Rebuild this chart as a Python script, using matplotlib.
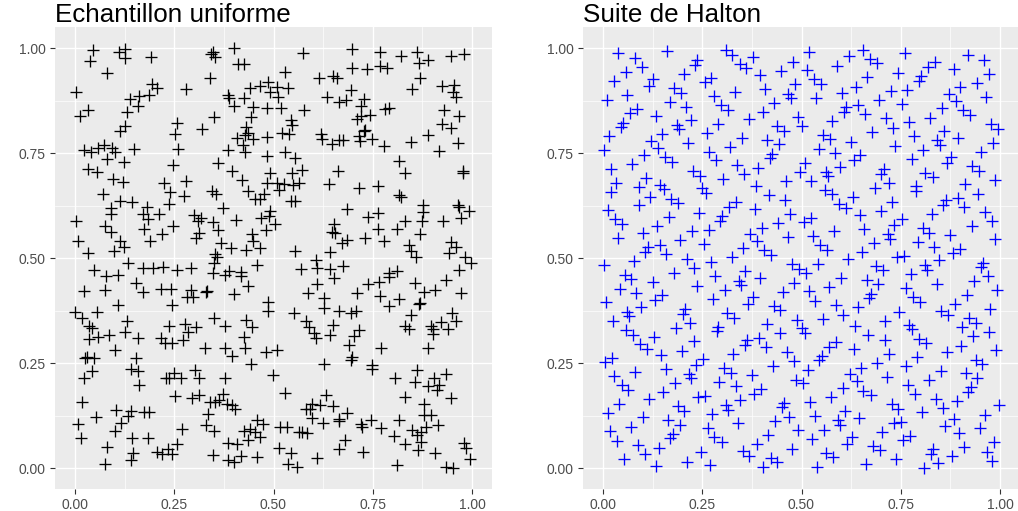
import matplotlib
matplotlib.use("Agg")
import matplotlib.pyplot as plt

plt.rcParams['font.family'] = ['Liberation Sans', 'DejaVu Sans']

# ---- uniform sample (read point by point) ----
unif_x = [
    0.045, 0.039, 0.125, 0.112, 0.125, 0.191, 0.081, 0.003, 0.193, 0.207, 0.187, 0.161, 0.139, 0.158, 0.130,
    0.032, 0.012, 0.125, 0.113, 0.280, 0.257, 0.251, 0.259, 0.149, 0.074, 0.059, 0.040, 0.024, 0.094, 0.101,
    0.080, 0.124, 0.032, 0.055, 0.097, 0.121, 0.248, 0.225, 0.281, 0.348, 0.343, 0.353, 0.400, 0.410, 0.427,
    0.341, 0.386, 0.388, 0.427, 0.401, 0.350, 0.320, 0.441, 0.465, 0.487, 0.490, 0.449, 0.444, 0.484, 0.432,
    0.435, 0.428, 0.407, 0.448, 0.423, 0.429, 0.385, 0.484, 0.484, 0.361, 0.395, 0.421, 0.492, 0.484,
    0.574, 0.698, 0.769, 0.821, 0.861, 0.867, 0.890, 0.948, 0.979, 0.528, 0.614, 0.649, 0.660, 0.698, 0.735,
    0.769, 0.785, 0.868, 0.849, 0.924, 0.954, 0.952, 0.960, 0.510, 0.536, 0.511, 0.696, 0.634, 0.666, 0.682,
    0.729, 0.720, 0.781, 0.791, 0.518, 0.576, 0.545, 0.546, 0.710, 0.721, 0.744, 0.929, 0.968, 0.924, 0.946,
    0.521, 0.540, 0.619, 0.623, 0.647, 0.666, 0.674, 0.716, 0.728, 0.730, 0.718, 0.748, 0.779, 0.845, 0.888,
    0.964, 0.916, 0.530, 0.555, 0.816, 0.571, 0.547, 0.663, 0.832, 0.976, 0.976, 0.509, 0.526, 0.563, 0.639,
    0.071, 0.240, 0.274, 0.346, 0.356, 0.435, 0.475, 0.453, 0.467,
    0.114, 0.144, 0.238, 0.181, 0.092, 0.091, 0.172, 0.183, 0.212, 0.374, 0.299, 0.317, 0.311, 0.347, 0.406,
    0.490, 0.488, 0.469, 0.002, 0.076, 0.092, 0.173, 0.248, 0.220, 0.190, 0.361, 0.312, 0.306, 0.480, 0.445,
    0.449,
    0.008, 0.034, 0.114, 0.123, 0.098, 0.367, 0.393, 0.430, 0.465, 0.353, 0.359, 0.134, 0.349, 0.047, 0.078,
    0.108, 0.171, 0.196, 0.223, 0.256, 0.293, 0.348, 0.377, 0.388, 0.419, 0.418, 0.459, 0.154, 0.435, 0.024,
    0.076, 0.172, 0.217, 0.241, 0.292, 0.329, 0.332, 0.282, 0.297, 0.400, 0.109, 0.245, 0.487, 0.485, 0.000,
    0.017, 0.056, 0.036, 0.044, 0.130, 0.238, 0.278, 0.306, 0.351, 0.378, 0.432, 0.445,
    0.550, 0.513, 0.715, 0.764, 0.817, 0.820, 0.545, 0.555, 0.877, 0.964, 0.968, 0.991, 0.876, 0.686, 0.763,
    0.738, 0.830, 0.874, 0.926, 0.971, 0.503, 0.653, 0.647, 0.655, 0.764, 0.811, 0.870, 0.730, 0.779, 0.686,
    0.672, 0.842, 0.847, 0.859, 0.946, 0.960, 0.942, 0.981, 0.998, 0.555, 0.642, 0.608, 0.609, 0.570, 0.642,
    0.675, 0.652, 0.610, 0.588, 0.627, 0.628, 0.665, 0.696, 0.707, 0.552, 0.581, 0.590, 0.650, 0.710, 0.738,
    0.766, 0.790, 0.791, 0.812, 0.769, 0.817, 0.790, 0.855, 0.879, 0.907, 0.935, 0.967, 0.972, 0.865, 0.870,
    0.846, 0.830, 0.842, 0.897, 0.922, 0.949, 0.960, 0.939, 0.901,
    0.286, 0.126, 0.087, 0.057, 0.036, 0.160, 0.216, 0.227, 0.245, 0.271, 0.427, 0.100, 0.025, 0.030, 0.048,
    0.155, 0.327, 0.378, 0.395, 0.428, 0.482, 0.443, 0.043, 0.024, 0.142, 0.160, 0.162, 0.249, 0.229, 0.237,
    0.266, 0.303, 0.313, 0.377,
    0.017, 0.253, 0.296, 0.312, 0.340, 0.354, 0.364, 0.372, 0.382, 0.396, 0.404,
    0.103, 0.141, 0.134, 0.175, 0.186, 0.052, 0.007, 0.115, 0.102, 0.016, 0.144, 0.184, 0.334, 0.330, 0.350,
    0.269, 0.258, 0.082, 0.146, 0.141, 0.076, 0.208, 0.220, 0.235, 0.245, 0.348, 0.459, 0.474, 0.426, 0.441,
    0.454, 0.467, 0.437, 0.386, 0.407, 0.418, 0.386, 0.400, 0.458,
    0.714, 0.602, 0.607, 0.641, 0.702, 0.901, 0.689, 0.510, 0.770, 0.888, 0.697, 0.695, 0.628, 0.748, 0.748,
    0.498, 0.860, 0.807, 0.856, 0.904, 0.935, 0.889, 0.917, 0.912, 0.946, 0.528, 0.632, 0.830, 0.880, 0.596,
    0.617, 0.582, 0.592, 0.651, 0.685, 0.597, 0.625, 0.665, 0.664, 0.746, 0.721, 0.722, 0.771, 0.816, 0.879,
    0.896, 0.913, 0.884, 0.849, 0.872, 0.862, 0.804, 0.872, 0.832, 0.517, 0.533, 0.563, 0.571, 0.585, 0.680,
    0.665, 0.725, 0.514, 0.545, 0.609, 0.536, 0.559, 0.811, 0.864, 0.907, 0.979, 0.984, 0.995, 0.933, 0.953,
]
unif_y = [
    0.995, 0.970, 0.998, 0.990, 0.976, 0.979, 0.941, 0.895, 0.914, 0.905, 0.888, 0.887, 0.879, 0.862, 0.848,
    0.853, 0.840, 0.816, 0.802, 0.902, 0.823, 0.795, 0.761, 0.761, 0.770, 0.762, 0.752, 0.757, 0.762, 0.752,
    0.737, 0.729, 0.712, 0.706, 0.690, 0.681, 0.721, 0.680, 0.683, 0.990, 0.986, 0.979, 1.000, 0.963, 0.962,
    0.930, 0.888, 0.881, 0.881, 0.862, 0.837, 0.807, 0.906, 0.911, 0.920, 0.895, 0.860, 0.837, 0.857, 0.813,
    0.798, 0.794, 0.786, 0.785, 0.770, 0.752, 0.758, 0.789, 0.744, 0.728, 0.708, 0.687, 0.704, 0.679,
    0.989, 0.998, 0.992, 0.981, 0.990, 0.965, 0.973, 0.982, 0.987, 0.943, 0.930, 0.933, 0.930, 0.954, 0.951,
    0.957, 0.954, 0.929, 0.903, 0.911, 0.913, 0.895, 0.883, 0.909, 0.905, 0.884, 0.900, 0.883, 0.873, 0.878,
    0.880, 0.862, 0.856, 0.859, 0.859, 0.852, 0.830, 0.817, 0.832, 0.840, 0.841, 0.852, 0.838, 0.819, 0.811,
    0.798, 0.797, 0.795, 0.784, 0.771, 0.781, 0.781, 0.792, 0.802, 0.805, 0.779, 0.783, 0.768, 0.778, 0.793,
    0.775, 0.755, 0.753, 0.740, 0.731, 0.711, 0.702, 0.707, 0.702, 0.708, 0.702, 0.679, 0.676, 0.679, 0.678,
    0.653, 0.658, 0.648, 0.661, 0.653, 0.661, 0.653, 0.642, 0.640,
    0.636, 0.633, 0.629, 0.623, 0.620, 0.605, 0.605, 0.594, 0.605, 0.620, 0.602, 0.596, 0.588, 0.586, 0.591,
    0.613, 0.601, 0.597, 0.589, 0.577, 0.563, 0.569, 0.578, 0.558, 0.541, 0.568, 0.561, 0.548, 0.567, 0.557,
    0.540,
    0.541, 0.512, 0.542, 0.526, 0.517, 0.537, 0.524, 0.520, 0.524, 0.510, 0.504, 0.490, 0.489, 0.471, 0.457,
    0.460, 0.476, 0.476, 0.480, 0.472, 0.478, 0.466, 0.461, 0.470, 0.467, 0.458, 0.483, 0.441, 0.434, 0.421,
    0.424, 0.419, 0.428, 0.428, 0.425, 0.420, 0.421, 0.409, 0.407, 0.415, 0.389, 0.390, 0.395, 0.374, 0.373,
    0.359, 0.371, 0.339, 0.334, 0.351, 0.340, 0.343, 0.337, 0.358, 0.340, 0.353, 0.336,
    0.674, 0.663, 0.667, 0.671, 0.650, 0.645, 0.636, 0.637, 0.628, 0.628, 0.621, 0.612, 0.610, 0.617, 0.609,
    0.599, 0.590, 0.588, 0.590, 0.595, 0.582, 0.581, 0.563, 0.561, 0.570, 0.569, 0.558, 0.548, 0.540, 0.543,
    0.536, 0.532, 0.517, 0.503, 0.539, 0.526, 0.512, 0.503, 0.490, 0.517, 0.515, 0.497, 0.478, 0.474, 0.474,
    0.482, 0.454, 0.440, 0.417, 0.405, 0.381, 0.375, 0.370, 0.374, 0.370, 0.350, 0.337, 0.341, 0.417, 0.438,
    0.444, 0.464, 0.455, 0.470, 0.411, 0.404, 0.387, 0.442, 0.420, 0.424, 0.449, 0.472, 0.417, 0.392, 0.394,
    0.366, 0.340, 0.332, 0.340, 0.348, 0.370, 0.350, 0.332, 0.331,
    0.324, 0.325, 0.317, 0.312, 0.307, 0.311, 0.310, 0.298, 0.298, 0.306, 0.313, 0.282, 0.262, 0.265, 0.262,
    0.263, 0.286, 0.286, 0.267, 0.286, 0.276, 0.248, 0.232, 0.216, 0.236, 0.232, 0.198, 0.227, 0.214, 0.214,
    0.216, 0.233, 0.216, 0.214,
    0.159, 0.172, 0.168, 0.174, 0.159, 0.159, 0.163, 0.177, 0.154, 0.151, 0.142,
    0.140, 0.137, 0.125, 0.133, 0.133, 0.121, 0.106, 0.108, 0.088, 0.071, 0.072, 0.071, 0.129, 0.102, 0.089,
    0.093, 0.057, 0.050, 0.036, 0.019, 0.011, 0.040, 0.033, 0.046, 0.035, 0.032, 0.115, 0.105, 0.089, 0.094,
    0.086, 0.075, 0.068, 0.060, 0.059, 0.030, 0.020, 0.016, 0.027,
    0.329, 0.321, 0.311, 0.317, 0.315, 0.319, 0.294, 0.282, 0.286, 0.286, 0.266, 0.259, 0.248, 0.247, 0.236,
    0.222, 0.235, 0.214, 0.206, 0.214, 0.224, 0.195, 0.199, 0.186, 0.167, 0.180, 0.175, 0.170, 0.153, 0.153,
    0.151, 0.141, 0.141, 0.148, 0.132, 0.120, 0.108, 0.117, 0.112, 0.115, 0.106, 0.099, 0.095, 0.115, 0.126,
    0.126, 0.103, 0.098, 0.091, 0.086, 0.079, 0.078, 0.062, 0.059, 0.099, 0.099, 0.086, 0.086, 0.084, 0.068,
    0.047, 0.040, 0.049, 0.036, 0.025, 0.010, 0.004, 0.009, 0.043, 0.037, 0.060, 0.048, 0.023, 0.002, 0.001,
]

# ---- Halton points, bases 2 and 3, n = 1..500 ----
halton_x = [
    0.5, 0.25, 0.75, 0.125, 0.625, 0.375, 0.875,
    0.062, 0.562, 0.312, 0.812, 0.188, 0.688, 0.438, 0.938,
    0.031, 0.531, 0.281, 0.781, 0.156, 0.656, 0.406, 0.906,
    0.094, 0.594, 0.344, 0.844, 0.219, 0.719, 0.469, 0.969,
    0.016, 0.516, 0.266, 0.766, 0.141, 0.641, 0.391, 0.891,
    0.078, 0.578, 0.328, 0.828, 0.203, 0.703, 0.453, 0.953,
    0.047, 0.547, 0.297, 0.797, 0.172, 0.672, 0.422, 0.922,
    0.109, 0.609, 0.359, 0.859, 0.234, 0.734, 0.484, 0.984,
    0.008, 0.508, 0.258, 0.758, 0.133, 0.633, 0.383, 0.883,
    0.070, 0.570, 0.320, 0.820, 0.195, 0.695, 0.445, 0.945,
    0.039, 0.539, 0.289, 0.789, 0.164, 0.664, 0.414, 0.914,
    0.102, 0.602, 0.352, 0.852, 0.227, 0.727, 0.477, 0.977,
    0.023, 0.523, 0.273, 0.773, 0.148, 0.648, 0.398, 0.898,
    0.086, 0.586, 0.336, 0.836, 0.211, 0.711, 0.461, 0.961,
    0.055, 0.555, 0.305, 0.805, 0.180, 0.680, 0.430, 0.930,
    0.117, 0.617, 0.367, 0.867, 0.242, 0.742, 0.492, 0.992,
    0.004, 0.504, 0.254, 0.754, 0.129, 0.629, 0.379, 0.879,
    0.066, 0.566, 0.316, 0.816, 0.191, 0.691, 0.441, 0.941,
    0.035, 0.535, 0.285, 0.785, 0.160, 0.660, 0.410, 0.910,
    0.098, 0.598, 0.348, 0.848, 0.223, 0.723, 0.473, 0.973,
    0.020, 0.520, 0.270, 0.770, 0.145, 0.645, 0.395, 0.895,
    0.082, 0.582, 0.332, 0.832, 0.207, 0.707, 0.457, 0.957,
    0.051, 0.551, 0.301, 0.801, 0.176, 0.676, 0.426, 0.926,
    0.113, 0.613, 0.363, 0.863, 0.238, 0.738, 0.488, 0.988,
    0.012, 0.512, 0.262, 0.762, 0.137, 0.637, 0.387, 0.887,
    0.074, 0.574, 0.324, 0.824, 0.199, 0.699, 0.449, 0.949,
    0.043, 0.543, 0.293, 0.793, 0.168, 0.668, 0.418, 0.918,
    0.105, 0.605, 0.355, 0.855, 0.230, 0.730, 0.480, 0.980,
    0.027, 0.527, 0.277, 0.777, 0.152, 0.652, 0.402, 0.902,
    0.090, 0.590, 0.340, 0.840, 0.215, 0.715, 0.465, 0.965,
    0.059, 0.559, 0.309, 0.809, 0.184, 0.684, 0.434, 0.934,
    0.121, 0.621, 0.371, 0.871, 0.246, 0.746, 0.496, 0.996,
    0.002, 0.502, 0.252, 0.752, 0.127, 0.627, 0.377, 0.877,
    0.064, 0.564, 0.314, 0.814, 0.189, 0.689, 0.439, 0.939,
    0.033, 0.533, 0.283, 0.783, 0.158, 0.658, 0.408, 0.908,
    0.096, 0.596, 0.346, 0.846, 0.221, 0.721, 0.471, 0.971,
    0.018, 0.518, 0.268, 0.768, 0.143, 0.643, 0.393, 0.893,
    0.080, 0.580, 0.330, 0.830, 0.205, 0.705, 0.455, 0.955,
    0.049, 0.549, 0.299, 0.799, 0.174, 0.674, 0.424, 0.924,
    0.111, 0.611, 0.361, 0.861, 0.236, 0.736, 0.486, 0.986,
    0.010, 0.510, 0.260, 0.760, 0.135, 0.635, 0.385, 0.885,
    0.072, 0.572, 0.322, 0.822, 0.197, 0.697, 0.447, 0.947,
    0.041, 0.541, 0.291, 0.791, 0.166, 0.666, 0.416, 0.916,
    0.104, 0.604, 0.354, 0.854, 0.229, 0.729, 0.479, 0.979,
    0.025, 0.525, 0.275, 0.775, 0.150, 0.650, 0.400, 0.900,
    0.088, 0.588, 0.338, 0.838, 0.213, 0.713, 0.463, 0.963,
    0.057, 0.557, 0.307, 0.807, 0.182, 0.682, 0.432, 0.932,
    0.119, 0.619, 0.369, 0.869, 0.244, 0.744, 0.494, 0.994,
    0.006, 0.506, 0.256, 0.756, 0.131, 0.631, 0.381, 0.881,
    0.068, 0.568, 0.318, 0.818, 0.193, 0.693, 0.443, 0.943,
    0.037, 0.537, 0.287, 0.787, 0.162, 0.662, 0.412, 0.912,
    0.100, 0.600, 0.350, 0.850, 0.225, 0.725, 0.475, 0.975,
    0.021, 0.521, 0.271, 0.771, 0.146, 0.646, 0.396, 0.896,
    0.084, 0.584, 0.334, 0.834, 0.209, 0.709, 0.459, 0.959,
    0.053, 0.553, 0.303, 0.803, 0.178, 0.678, 0.428, 0.928,
    0.115, 0.615, 0.365, 0.865, 0.240, 0.740, 0.490, 0.990,
    0.014, 0.514, 0.264, 0.764, 0.139, 0.639, 0.389, 0.889,
    0.076, 0.576, 0.326, 0.826, 0.201, 0.701, 0.451, 0.951,
    0.045, 0.545, 0.295, 0.795, 0.170, 0.670, 0.420, 0.920,
    0.107, 0.607, 0.357, 0.857, 0.232, 0.732, 0.482, 0.982,
    0.029, 0.529, 0.279, 0.779, 0.154, 0.654, 0.404, 0.904,
    0.092, 0.592, 0.342, 0.842, 0.217, 0.717, 0.467, 0.967,
    0.061, 0.561, 0.311, 0.811, 0.186,
]
halton_y = [
    0.333, 0.667, 0.111, 0.444, 0.778, 0.222, 0.556, 0.889, 0.037, 0.370,
    0.704, 0.148, 0.481, 0.815, 0.259, 0.593, 0.926, 0.074, 0.407, 0.741,
    0.185, 0.519, 0.852, 0.296, 0.630, 0.963, 0.012, 0.346, 0.679, 0.123,
    0.457, 0.790, 0.235, 0.568, 0.901, 0.049, 0.383, 0.716, 0.160, 0.494,
    0.827, 0.272, 0.605, 0.938, 0.086, 0.420, 0.753, 0.198, 0.531, 0.864,
    0.309, 0.642, 0.975, 0.025, 0.358, 0.691, 0.136, 0.469, 0.802, 0.247,
    0.580, 0.914, 0.062, 0.395, 0.728, 0.173, 0.506, 0.840, 0.284, 0.617,
    0.951, 0.099, 0.432, 0.765, 0.210, 0.543, 0.877, 0.321, 0.654, 0.988,
    0.004, 0.337, 0.671, 0.115, 0.449, 0.782, 0.226, 0.560, 0.893, 0.041,
    0.374, 0.708, 0.152, 0.486, 0.819, 0.263, 0.597, 0.930, 0.078, 0.412,
    0.745, 0.189, 0.523, 0.856, 0.300, 0.634, 0.967, 0.016, 0.350, 0.683,
    0.128, 0.461, 0.794, 0.239, 0.572, 0.905, 0.054, 0.387, 0.720, 0.165,
    0.498, 0.831, 0.276, 0.609, 0.942, 0.091, 0.424, 0.757, 0.202, 0.535,
    0.868, 0.313, 0.646, 0.979, 0.029, 0.362, 0.695, 0.140, 0.473, 0.807,
    0.251, 0.584, 0.918, 0.066, 0.399, 0.733, 0.177, 0.510, 0.844, 0.288,
    0.621, 0.955, 0.103, 0.436, 0.770, 0.214, 0.547, 0.881, 0.325, 0.658,
    0.992,
    0.008, 0.342, 0.675, 0.119, 0.453, 0.786, 0.230, 0.564, 0.897, 0.045,
    0.379, 0.712, 0.156, 0.490, 0.823, 0.267, 0.601, 0.934, 0.082, 0.416,
    0.749, 0.193, 0.527, 0.860, 0.305, 0.638, 0.971, 0.021, 0.354, 0.687,
    0.132, 0.465, 0.798, 0.243, 0.576, 0.909, 0.058, 0.391, 0.724, 0.169,
    0.502, 0.835, 0.280, 0.613, 0.947, 0.095, 0.428, 0.761, 0.206, 0.539,
    0.872, 0.317, 0.650, 0.984, 0.033, 0.366, 0.700, 0.144, 0.477, 0.811,
    0.255, 0.588, 0.922, 0.070, 0.403, 0.737, 0.181, 0.514, 0.848, 0.292,
    0.626, 0.959, 0.107, 0.440, 0.774, 0.218, 0.551, 0.885, 0.329, 0.663,
    0.996,
    0.001, 0.335, 0.668, 0.112, 0.446, 0.779, 0.224, 0.557, 0.890, 0.038,
    0.372, 0.705, 0.150, 0.483, 0.816, 0.261, 0.594, 0.927, 0.075, 0.409,
    0.742, 0.187, 0.520, 0.853, 0.298, 0.631, 0.964, 0.014, 0.347, 0.680,
    0.125, 0.458, 0.791, 0.236, 0.569, 0.903, 0.051, 0.384, 0.717, 0.162,
    0.495, 0.829, 0.273, 0.606, 0.940, 0.088, 0.421, 0.754, 0.199, 0.532,
    0.866, 0.310, 0.643, 0.977, 0.026, 0.359, 0.693, 0.137, 0.471, 0.804,
    0.248, 0.582, 0.915, 0.063, 0.396, 0.730, 0.174, 0.508, 0.841, 0.285,
    0.619, 0.952, 0.100, 0.434, 0.767, 0.211, 0.545, 0.878, 0.322, 0.656,
    0.989,
    0.005, 0.339, 0.672, 0.117, 0.450, 0.783, 0.228, 0.561, 0.894, 0.043,
    0.376, 0.709, 0.154, 0.487, 0.820, 0.265, 0.598, 0.931, 0.080, 0.413,
    0.746, 0.191, 0.524, 0.857, 0.302, 0.635, 0.968, 0.018, 0.351, 0.685,
    0.129, 0.462, 0.796, 0.240, 0.573, 0.907, 0.055, 0.388, 0.722, 0.166,
    0.499, 0.833, 0.277, 0.610, 0.944, 0.092, 0.425, 0.759, 0.203, 0.536,
    0.870, 0.314, 0.647, 0.981, 0.030, 0.364, 0.697, 0.141, 0.475, 0.808,
    0.252, 0.586, 0.919, 0.067, 0.401, 0.734, 0.178, 0.512, 0.845, 0.289,
    0.623, 0.956, 0.104, 0.438, 0.771, 0.215, 0.549, 0.882, 0.326, 0.660,
    0.993,
    0.010, 0.343, 0.676, 0.121, 0.454, 0.787, 0.232, 0.565, 0.898, 0.047,
    0.380, 0.713, 0.158, 0.491, 0.824, 0.269, 0.602, 0.936, 0.084, 0.417,
    0.750, 0.195, 0.528, 0.861, 0.306, 0.639, 0.973, 0.022, 0.355, 0.689,
    0.133, 0.466, 0.800, 0.244, 0.577, 0.911, 0.059, 0.392, 0.726, 0.170,
    0.503, 0.837, 0.281, 0.615, 0.948, 0.096, 0.429, 0.763, 0.207, 0.540,
    0.874, 0.318, 0.652, 0.985, 0.034, 0.368, 0.701, 0.145, 0.479, 0.812,
    0.257, 0.590, 0.923, 0.071, 0.405, 0.738, 0.182, 0.516, 0.849, 0.294,
    0.627, 0.960, 0.108, 0.442, 0.775, 0.219, 0.553, 0.886, 0.331, 0.664,
    0.997,
    0.003, 0.336, 0.669, 0.114, 0.447, 0.781, 0.225, 0.558, 0.892, 0.040,
    0.373, 0.706, 0.151, 0.484, 0.818,
]

tick_vals = [0.0, 0.25, 0.5, 0.75, 1.0]
tick_labels = ["0.00", "0.25", "0.50", "0.75", "1.00"]
minor_vals = [0.125, 0.375, 0.625, 0.875]

W, H = 1018, 511
fig = plt.figure(figsize=(W / 100, H / 100), dpi=100)


def draw_panel(left_px, xs, ys, color, title):
    # panel box in pixels: 437 wide, spans y 27..489
    ax = fig.add_axes([left_px / W, (H - 489.3) / H, 437 / W, 462 / H])
    ax.set_facecolor("#EBEBEB")
    ax.set_xlim(-0.05, 1.05)
    ax.set_ylim(-0.05, 1.05)
    ax.set_xticks(tick_vals)
    ax.set_xticklabels(tick_labels)
    ax.set_yticks(tick_vals)
    ax.set_yticklabels(tick_labels)
    ax.set_xticks(minor_vals, minor=True)
    ax.set_yticks(minor_vals, minor=True)
    ax.grid(which="major", color="white", linewidth=1.0)
    ax.grid(which="minor", color="white", linewidth=0.5)
    ax.set_axisbelow(True)
    ax.tick_params(which="minor", length=0)
    ax.tick_params(which="major", length=3.5, width=0.8, color="#333333",
                   labelcolor="#4D4D4D", labelsize=10, pad=3)
    for sp in ax.spines.values():
        sp.set_visible(False)
    ax.plot(xs, ys, linestyle="none", marker="+", color=color,
            markersize=8.4, markeredgewidth=0.95)
    fig.text(left_px / W, 1 - 15 / H, title, fontsize=18.7,
             ha="left", va="center", color="black")
    return ax


draw_panel(55, unif_x, unif_y, "black", "Echantillon uniforme")
draw_panel(583, halton_x, halton_y, "blue", "Suite de Halton")

fig.savefig("out.png", dpi=100)
